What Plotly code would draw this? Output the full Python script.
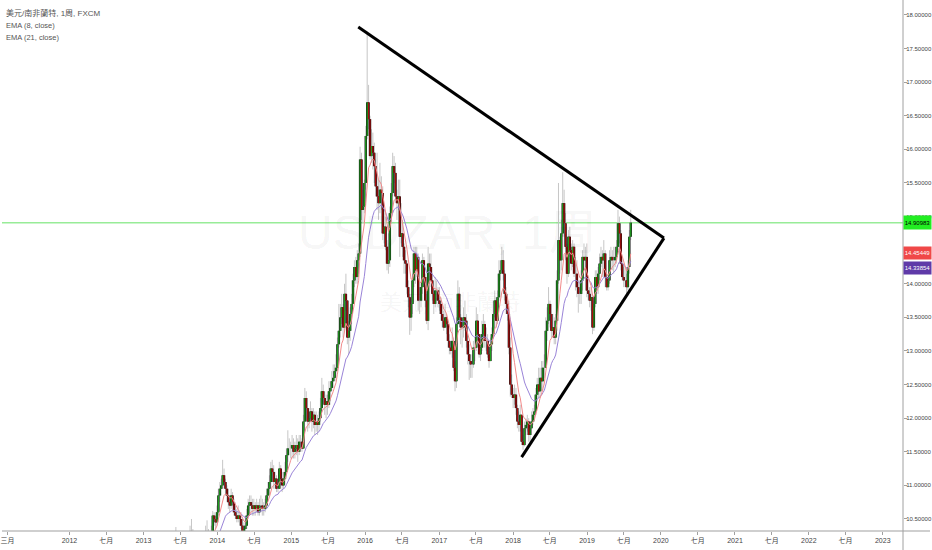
import numpy as np
import pandas as pd
import plotly.graph_objects as go

# ---------------- data (USD/ZAR weekly, FXCM) ----------------
first_open = 9.15
week_start = "2013-04-01"

close = [
    # 2013 Apr-Dec
    9.20, 9.05, 9.25, 9.15, 9.00,
    9.15, 9.40, 9.75, 9.95,
    10.00, 10.05, 10.10, 9.90,
    10.05, 9.95, 9.85, 9.80, 9.95,
    10.05, 10.15, 10.30, 10.20,
    10.05, 9.90, 9.85, 10.00, 9.95,
    9.90, 9.80, 9.90, 10.05,
    10.30, 10.25, 10.20, 10.25,
    10.30, 10.55, 10.50, 10.45, 10.60,
    # 2014
    10.85, 10.95, 11.00, 11.15,
    11.05, 10.95, 10.85, 10.75,
    10.70, 10.85, 10.75, 10.60, 10.55,
    10.50, 10.55, 10.50, 10.40,
    10.30, 10.35, 10.40, 10.55,
    10.70, 10.75, 10.70, 10.65, 10.70,
    10.65, 10.70, 10.60, 10.70,
    10.70, 10.65, 10.65, 10.70,
    10.85, 10.95, 11.05, 11.25, 11.20,
    11.05, 11.10, 10.95, 10.95,
    11.25, 11.10, 11.00, 11.10,
    11.20, 11.45, 11.55, 11.55, 11.55,
    # 2015
    11.60, 11.50, 11.55, 11.60,
    11.50, 11.65, 11.65, 11.55,
    11.95, 12.30, 12.15, 11.95, 12.00,
    12.10, 11.95, 12.05, 11.90,
    11.95, 11.90, 12.00, 12.15,
    12.40, 12.30, 12.20, 12.25, 12.20,
    12.40, 12.45, 12.55, 12.60,
    12.70, 12.75, 13.10, 13.30, 13.50,
    13.65, 13.35, 13.85, 13.75,
    13.20, 13.30, 13.55, 13.70,
    14.05, 14.25, 14.10, 14.35, 14.45,
    15.85, 15.10, 15.15, 15.50,
    # 2016
    16.20, 16.70, 16.45, 15.90,
    16.05, 15.95, 15.75, 15.45, 15.30,
    15.20, 15.40, 15.35, 14.75,
    14.85, 14.55, 14.30, 14.35,
    15.05, 15.35, 15.75, 15.65, 15.30,
    15.20, 15.30, 14.70, 14.75,
    14.55, 14.35, 14.30, 13.95,
    13.80, 13.50, 13.70, 14.05, 14.45,
    14.20, 14.40, 13.75, 13.75,
    13.95, 14.35, 14.10, 13.75, 13.45,
    14.30, 14.25, 14.05, 13.85,
    13.70, 13.90, 13.90, 13.75,
    # 2017
    13.70, 13.55, 13.45, 13.35, 13.50,
    13.40, 13.15, 13.05, 13.00,
    13.15, 12.75, 12.55, 13.40,
    13.85, 13.50, 13.35, 13.35,
    13.50, 13.45, 13.15, 12.95, 12.85,
    12.80, 12.80, 13.05, 13.05,
    13.45, 13.25, 12.95, 13.05, 13.25,
    13.40, 13.15, 13.15, 12.95,
    12.85, 13.10, 13.25, 13.55,
    13.75, 13.45, 13.80, 14.15, 14.20,
    14.35, 14.15, 13.85, 13.70,
    13.55, 13.05, 12.50, 12.35,
    # 2018
    12.30, 12.35, 12.15, 11.95, 11.90,
    12.05, 11.65, 11.60, 11.85,
    11.90, 11.95, 11.75, 11.85,
    11.95, 12.05, 12.10, 12.35, 12.50,
    12.40, 12.60, 12.55, 12.75,
    12.75, 13.30, 13.45, 13.70,
    13.55, 13.30, 13.35, 13.20, 13.45,
    14.05, 14.65, 14.35, 14.75,
    15.20, 14.90, 14.55, 14.15,
    14.70, 14.50, 14.30, 14.55, 14.15,
    14.15, 13.95, 13.85, 13.85,
    14.05, 14.40, 14.35, 14.40, 13.90,
    # 2019 Jan-Aug
    13.85, 13.75, 13.80, 13.35,
    13.70, 14.10, 13.95, 14.15,
    14.30, 14.40, 14.35, 14.45,
    14.10, 13.95, 14.05, 14.35, 14.40,
    14.35, 14.35, 14.40, 14.55,
    14.90, 14.75, 14.30, 14.10,
    14.05, 14.05, 13.95, 14.25, 14.70,
    14.90983,
]

high = [
    # 2013
    9.30, 9.25, 9.35, 9.30, 9.15,
    9.25, 9.45, 9.85, 10.05,
    10.15, 10.38, 10.30, 10.20,
    10.10, 10.20, 9.95, 9.90, 10.00,
    10.10, 10.20, 10.40, 10.50,
    10.35, 10.05, 10.00, 10.10, 10.15,
    10.05, 9.95, 9.95, 10.10,
    10.40, 10.48, 10.35, 10.30,
    10.40, 10.62, 10.60, 10.55, 10.70,
    # 2014
    10.95, 11.05, 11.10, 11.38,
    11.25, 11.10, 11.00, 10.95,
    10.85, 10.95, 10.90, 10.80, 10.70,
    10.65, 10.70, 10.60, 10.60,
    10.50, 10.45, 10.55, 10.65,
    10.80, 10.85, 10.85, 10.80, 10.80,
    10.75, 10.80, 10.75, 10.80,
    10.85, 10.80, 10.75, 10.80,
    10.95, 11.05, 11.15, 11.35, 11.38,
    11.30, 11.20, 11.15, 11.10,
    11.35, 11.30, 11.20, 11.20,
    11.35, 11.55, 11.82, 11.70, 11.65,
    # 2015
    11.75, 11.70, 11.65, 11.75,
    11.70, 11.75, 11.75, 11.70,
    12.05, 12.45, 12.40, 12.15, 12.15,
    12.25, 12.15, 12.15, 12.10,
    12.10, 12.05, 12.10, 12.30,
    12.60, 12.50, 12.40, 12.35, 12.35,
    12.55, 12.55, 12.70, 12.80,
    12.80, 12.95, 13.20, 13.70, 13.70,
    13.85, 13.70, 14.00, 14.15,
    13.75, 13.45, 13.65, 13.85,
    14.15, 14.35, 14.40, 14.50, 14.60,
    16.04, 15.95, 15.40, 15.55,
    # 2016
    16.35, 17.75, 16.96, 16.50,
    16.30, 16.25, 16.10, 15.85, 15.95,
    15.55, 15.80, 15.60, 15.45,
    15.10, 15.00, 14.65, 14.75,
    15.15, 15.50, 15.95, 15.90, 15.80,
    15.40, 15.55, 15.55, 15.20,
    14.95, 14.60, 14.50, 14.35,
    14.05, 13.85, 13.85, 14.15, 14.55,
    14.55, 14.55, 14.45, 13.95,
    14.05, 14.45, 14.40, 14.15, 13.85,
    14.55, 14.45, 14.45, 14.15,
    13.95, 14.10, 14.05, 13.95,
    # 2017
    13.95, 13.80, 13.70, 13.60, 13.70,
    13.55, 13.45, 13.25, 13.15,
    13.35, 13.20, 12.85, 13.50,
    14.05, 13.95, 13.55, 13.45,
    13.65, 13.75, 13.55, 13.15, 13.10,
    12.95, 12.95, 13.15, 13.20,
    13.65, 13.55, 13.25, 13.20, 13.45,
    13.55, 13.45, 13.35, 13.25,
    13.00, 13.20, 13.35, 13.75,
    13.90, 13.80, 13.90, 14.35, 14.35,
    14.55, 14.50, 14.20, 13.95,
    13.85, 13.75, 13.20, 12.65,
    # 2018
    12.45, 12.50, 12.45, 12.20, 12.10,
    12.20, 12.05, 11.75, 11.95,
    12.00, 12.05, 12.00, 11.95,
    12.10, 12.15, 12.20, 12.45, 12.60,
    12.75, 12.75, 12.85, 12.85,
    12.95, 13.50, 13.65, 13.95,
    13.75, 13.70, 13.55, 13.50, 13.55,
    14.20, 15.50, 14.70, 14.95,
    15.66, 15.40, 15.05, 14.60,
    14.80, 14.85, 14.60, 14.65, 14.60,
    14.40, 14.35, 14.05, 14.05,
    14.20, 14.50, 14.60, 14.55, 14.60,
    # 2019
    14.05, 13.95, 13.95, 13.85,
    13.75, 14.20, 14.20, 14.25,
    14.45, 14.55, 14.50, 14.65,
    14.50, 14.15, 14.15, 14.50, 14.55,
    14.50, 14.55, 14.55, 14.65,
    15.10, 15.00, 14.80, 14.40,
    14.25, 14.25, 14.15, 14.35, 14.80,
    15.10,
]

low = [
    # 2013
    9.05, 8.98, 9.00, 9.10, 8.95,
    8.98, 9.10, 9.35, 9.70,
    9.80, 9.90, 9.85, 9.85,
    9.85, 9.85, 9.75, 9.70, 9.75,
    9.90, 9.95, 10.05, 10.10,
    10.00, 9.85, 9.70, 9.80, 9.90,
    9.85, 9.75, 9.75, 9.85,
    10.00, 10.15, 10.10, 10.10,
    10.15, 10.25, 10.40, 10.35, 10.40,
    # 2014
    10.55, 10.75, 10.85, 10.95,
    10.95, 10.85, 10.75, 10.65,
    10.60, 10.65, 10.70, 10.55, 10.50,
    10.45, 10.45, 10.40, 10.35,
    10.25, 10.20, 10.30, 10.35,
    10.50, 10.55, 10.60, 10.55, 10.55,
    10.55, 10.60, 10.55, 10.55,
    10.60, 10.55, 10.55, 10.60,
    10.65, 10.80, 10.85, 10.95, 11.05,
    10.95, 10.95, 10.90, 10.90,
    10.95, 11.00, 10.90, 10.95,
    11.00, 11.15, 11.35, 11.45, 11.40,
    # 2015
    11.40, 11.40, 11.40, 11.45,
    11.35, 11.45, 11.50, 11.50,
    11.55, 11.95, 11.95, 11.80, 11.85,
    11.95, 11.80, 11.85, 11.75,
    11.80, 11.75, 11.80, 11.95,
    12.10, 12.20, 12.05, 12.00, 12.05,
    12.15, 12.25, 12.40, 12.45,
    12.55, 12.55, 12.70, 13.05, 13.20,
    13.40, 13.20, 13.30, 13.60,
    13.10, 12.95, 13.15, 13.40,
    13.70, 13.95, 14.00, 14.00, 14.15,
    14.40, 14.95, 14.90, 15.05,
    # 2016
    15.40, 16.15, 16.30, 15.85,
    15.80, 15.70, 15.50, 15.30, 15.10,
    14.95, 15.05, 15.10, 14.65,
    14.60, 14.50, 14.20, 14.15,
    14.25, 14.90, 15.30, 15.50, 15.25,
    14.95, 15.10, 14.40, 14.60,
    14.40, 14.15, 14.15, 13.85,
    13.65, 13.24, 13.30, 13.55, 13.95,
    14.00, 14.10, 13.60, 13.55,
    13.65, 13.85, 13.95, 13.65, 13.40,
    13.31, 14.00, 13.95, 13.75,
    13.55, 13.65, 13.75, 13.65,
    # 2017
    13.60, 13.45, 13.35, 13.30, 13.35,
    13.25, 13.05, 12.95, 12.95,
    12.90, 12.70, 12.40, 12.45,
    13.40, 13.40, 13.10, 13.05,
    13.20, 13.30, 13.05, 12.80, 12.57,
    12.60, 12.60, 12.75, 12.85,
    13.00, 13.15, 12.90, 12.85, 13.00,
    13.15, 13.05, 13.00, 12.90,
    12.75, 12.85, 13.00, 13.20,
    13.50, 13.35, 13.40, 13.75, 14.05,
    14.15, 14.05, 13.75, 13.55,
    13.45, 12.95, 12.32, 12.30,
    # 2018
    12.15, 12.20, 12.05, 11.85, 11.80,
    11.80, 11.60, 11.53, 11.58,
    11.75, 11.80, 11.65, 11.60,
    11.75, 11.90, 11.95, 12.05, 12.25,
    12.30, 12.30, 12.40, 12.40,
    12.60, 12.85, 13.15, 13.40,
    13.35, 13.20, 13.20, 13.10, 13.10,
    13.30, 14.00, 14.15, 14.20,
    14.70, 14.70, 14.35, 14.00,
    14.10, 14.40, 14.20, 14.25, 14.10,
    13.90, 13.80, 13.57, 13.70,
    13.70, 13.90, 14.20, 14.20, 13.80,
    # 2019
    13.75, 13.65, 13.60, 13.25,
    13.30, 13.65, 13.85, 13.85,
    14.05, 14.25, 14.10, 14.10,
    13.95, 13.90, 13.90, 14.00, 14.25,
    14.20, 14.15, 14.25, 14.30,
    14.50, 14.60, 14.20, 14.05,
    13.95, 13.95, 13.85, 13.90, 14.15,
    14.65,
]

# drawn trend lines (date, price)
trend_top_x = ["2015-11-28", "2020-01-16"]
trend_top_y = [17.82, 14.68]
trend_bot_x = ["2018-02-12", "2020-01-16"]
trend_bot_y = [11.42, 14.68]

# EMA last-value labels as shown on the price scale
ema8_label = 14.45449
ema21_label = 14.33854

x_tick_dates = ["2011-03-01", "2012-01-01", "2012-07-01", "2013-01-01", "2013-07-01",
                "2014-01-01", "2014-07-01", "2015-01-01", "2015-07-01", "2016-01-01",
                "2016-07-01", "2017-01-01", "2017-07-01", "2018-01-01", "2018-07-01",
                "2019-01-01", "2019-07-01", "2020-01-01", "2020-07-01", "2021-01-01",
                "2021-07-01", "2022-01-01", "2022-07-01", "2023-01-01"]
x_tick_text = ["三月", "2012", "七月", "2013", "七月", "2014", "七月", "2015", "七月", "2016",
               "七月", "2017", "七月", "2018", "七月", "2019", "七月", "2020", "七月", "2021",
               "七月", "2022", "七月", "2023"]
y_tick_vals = [10.5, 11.0, 11.5, 12.0, 12.5, 13.0, 13.5, 14.0, 14.5, 15.0, 15.5,
               16.0, 16.5, 17.0, 17.5, 18.0]
# the 14.5 scale label sits under the EMA(8) price tag in the original
y_hidden_ticks = [14.5]

assert len(close) == len(high) == len(low)

# ---------------- derived ----------------
dates = pd.date_range(week_start, periods=len(close), freq="W-MON")
c = np.array(close)
o = np.array([first_open] + close[:-1])
h = np.maximum.reduce([np.array(high), o, c])
l = np.minimum.reduce([np.array(low), o, c])
ema8 = pd.Series(c).ewm(span=8, adjust=False).mean()
ema21 = pd.Series(c).ewm(span=21, adjust=False).mean()

wx, wy = [], []
ux, uy, dx, dy = [], [], [], []
for d, oo, cc, lo_, hi_ in zip(dates, o, c, l, h):
    wx += [d, d, None]
    wy += [lo_, hi_, None]
    if cc >= oo:
        ux += [d, d, None]
        uy += [oo, cc, None]
    else:
        dx += [d, d, None]
        dy += [oo, cc, None]

FONT = "Liberation Sans, Arial, Noto Sans CJK TC, sans-serif"
CJK = "Noto Sans CJK TC, Noto Sans CJK SC, sans-serif"


def seg(x, y, color, width):
    return go.Scatter(x=x, y=y, mode="lines", line=dict(color=color, width=width),
                      hoverinfo="skip", showlegend=False)


fig = go.Figure()
fig.add_trace(seg(wx, wy, "#c6c6c6", 1))                 # wicks
fig.add_trace(seg(ux + [None] + dx, uy + [None] + dy, "#111111", 2.4))  # body edges
fig.add_trace(seg(ux, uy, "#1f9f1f", 1.3))               # up bodies
fig.add_trace(seg(dx, dy, "#a80c0c", 1.3))               # down bodies
fig.add_trace(seg(dates, ema21, "#9a84d8", 1))
fig.add_trace(seg(dates, ema8, "#f28a8a", 1))

last_close = close[-1]
shapes = [
    dict(type="line", xref="paper", yref="y", x0=0, x1=1, y0=last_close, y1=last_close,
         line=dict(color="#98ec98", width=1.5), layer="below"),
    dict(type="line", xref="x", yref="y", x0=trend_top_x[0], x1=trend_top_x[1],
         y0=trend_top_y[0], y1=trend_top_y[1], line=dict(color="black", width=3)),
    dict(type="line", xref="x", yref="y", x0=trend_bot_x[0], x1=trend_bot_x[1],
         y0=trend_bot_y[0], y1=trend_bot_y[1], line=dict(color="black", width=3)),
    dict(type="line", xref="paper", yref="paper", x0=0, x1=1.03, y0=0, y1=0,
         line=dict(color="#a0a0a0", width=1.2)),
    dict(type="line", xref="paper", yref="paper", x0=1, x1=1, y0=-0.04, y1=1,
         line=dict(color="#a0a0a0", width=1)),
]

annotations = [
    # watermark
    dict(xref="paper", yref="paper", x=0.495, y=0.563, text="USDZAR, 1周", showarrow=False,
         font=dict(family=FONT, size=48, color="rgba(0,0,0,0.05)"), xanchor="center", yanchor="middle"),
    dict(xref="paper", yref="paper", x=0.498, y=0.435, text="美元/南非蘭特", showarrow=False,
         font=dict(family=CJK, size=22, color="rgba(0,0,0,0.05)"), xanchor="center", yanchor="middle"),
    # legend
    dict(xref="paper", yref="paper", x=0, xshift=2, y=1, yshift=-13, text="美元/南非蘭特, 1周, FXCM",
         showarrow=False, xanchor="left", yanchor="middle", font=dict(family=FONT, size=8, color="#555")),
    dict(xref="paper", yref="paper", x=0, xshift=2, y=1, yshift=-25, text="EMA (8, close)",
         showarrow=False, xanchor="left", yanchor="middle", font=dict(family=FONT, size=7.5, color="#555")),
    dict(xref="paper", yref="paper", x=0, xshift=2, y=1, yshift=-37, text="EMA (21, close)",
         showarrow=False, xanchor="left", yanchor="middle", font=dict(family=FONT, size=7.5, color="#555")),
    # price scale labels
    dict(xref="paper", yref="y", x=1, y=last_close, text=f"{last_close:.5f}", showarrow=False,
         xanchor="left", yanchor="middle", bgcolor="#22ee22", borderpad=0, width=27, height=13,
         font=dict(family=FONT, size=6, color="#000")),
    dict(xref="paper", yref="y", x=1, y=ema8_label, text=f"{ema8_label:.5f}", showarrow=False,
         xanchor="left", yanchor="middle", bgcolor="#f04848", borderpad=0, width=27, height=12,
         font=dict(family=FONT, size=6, color="#fff")),
    dict(xref="paper", yref="y", x=1, y=ema21_label, text=f"{ema21_label:.5f}", showarrow=False,
         xanchor="left", yanchor="middle", bgcolor="#5f3aa8", borderpad=0, width=27, height=12,
         yshift=-7, font=dict(family=FONT, size=6, color="#fff")),
]

fig.update_layout(
    width=932, height=550,
    margin=dict(l=0, r=27, t=0, b=19),
    paper_bgcolor="white", plot_bgcolor="white",
    showlegend=False,
    shapes=shapes, annotations=annotations,
    xaxis=dict(type="date", range=["2011-02-02", "2023-04-11"], showgrid=False, zeroline=False,
               showline=False, ticklabeloverflow="allow",
               tickmode="array", tickvals=x_tick_dates, ticktext=x_tick_text,
               ticks="outside", ticklen=3, tickcolor="#a0a0a0", tickangle=0,
               tickfont=dict(family=FONT, size=7, color="#444")),
    yaxis=dict(side="right", range=[10.321, 18.223], showgrid=False, zeroline=False, showline=False,
               tickmode="array", tickvals=y_tick_vals,
               ticktext=["" if v in y_hidden_ticks else f"{v:.5f}" for v in y_tick_vals],
               ticks="outside", ticklen=3, tickcolor="#a0a0a0", ticklabelstandoff=-2,
               ticklabeloverflow="allow",
               tickfont=dict(family=FONT, size=6, color="#444")),
)

fig.write_html("out.html", config={"displayModeBar": False},
               post_script="document.body.style.margin='0';")
